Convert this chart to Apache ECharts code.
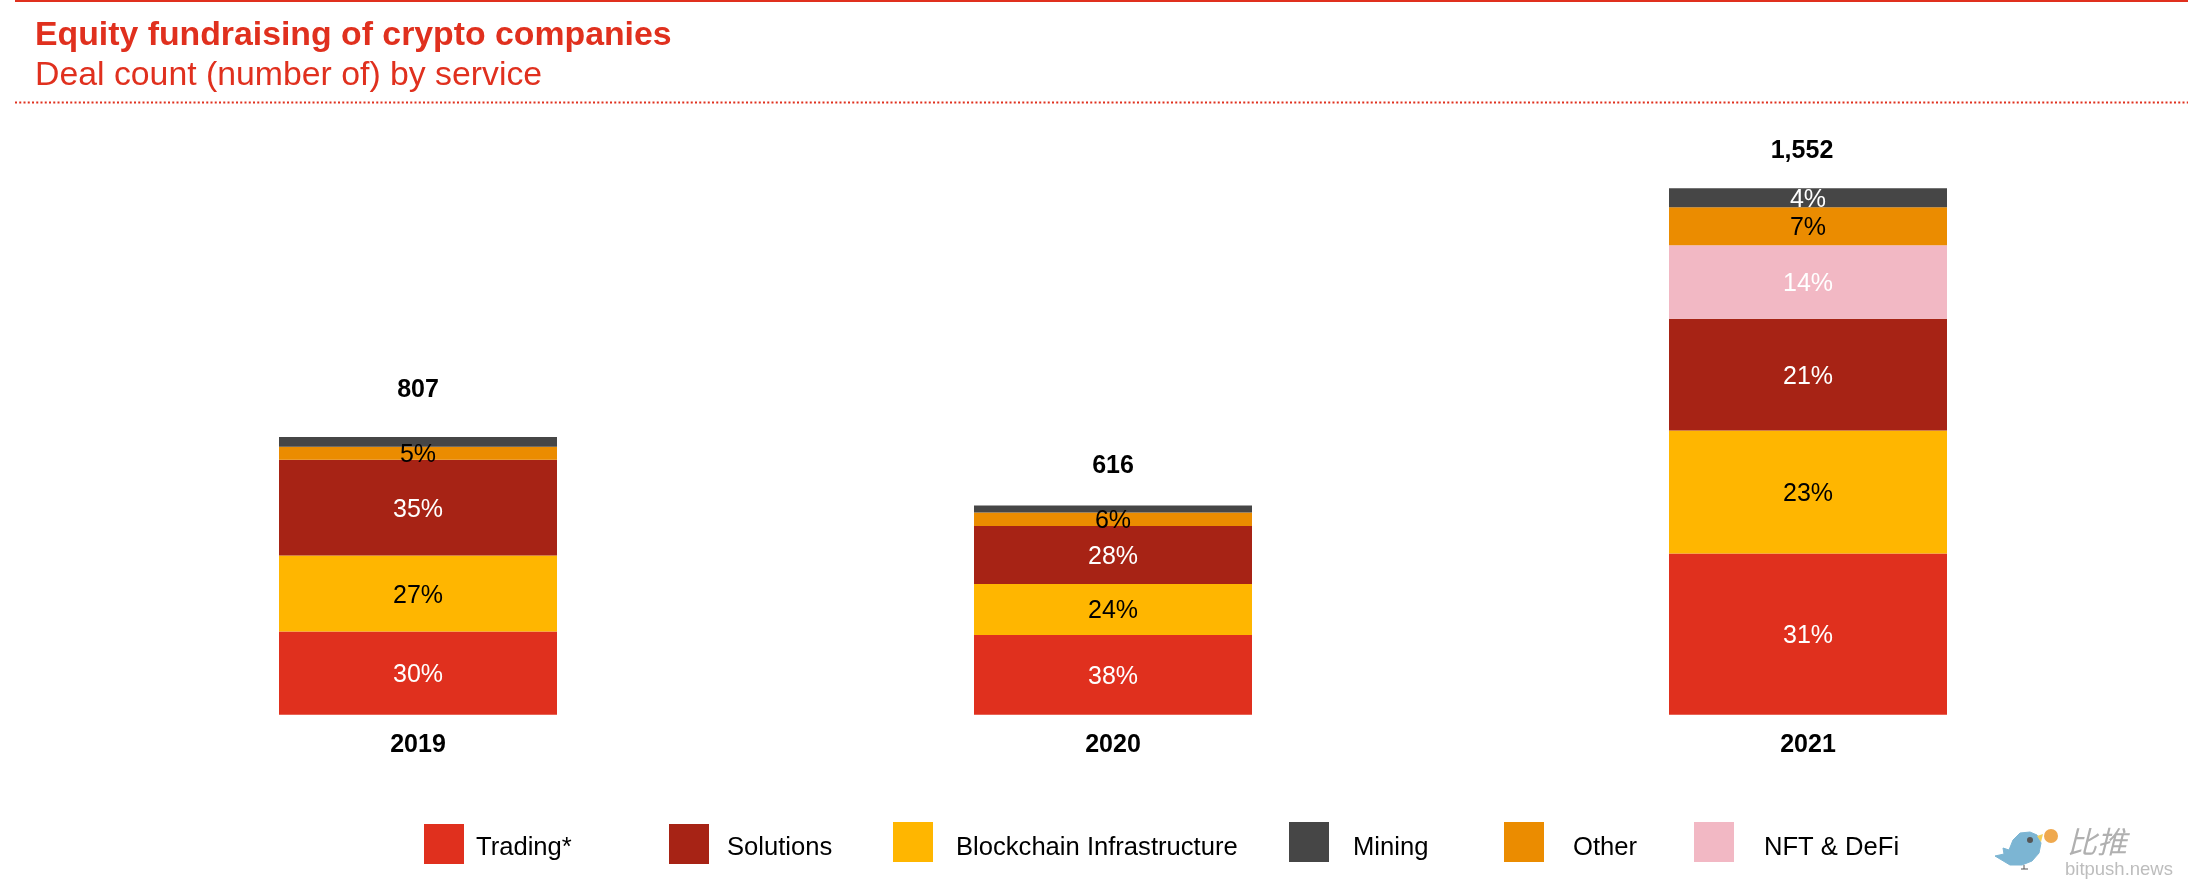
<!DOCTYPE html>
<html>
<head>
<meta charset="utf-8">
<title>Equity fundraising of crypto companies</title>
<script src="https://cdn.jsdelivr.net/npm/echarts@6/dist/echarts.min.js"></script>
<style>
  html, body { margin: 0; padding: 0; background: #fff; }
  #chart { width: 2192px; height: 896px; }
</style>
</head>
<body>
<div id="chart"></div>
<script>
// deal counts, stacked bottom to top
const years = ['2019', '2020', '2021'];
const trading = [245, 235, 475];
const blockchain = [224, 150, 363];
const solutions = [283, 171, 329];
const nftDefi = [null, null, 217];
const other = [38, 40, 112];
const mining = [29, 21, 56];

// labels as printed on the chart
const totals = ['807', '616', '1,552'];
const tradingPct = ['30%', '38%', '31%'];
const blockchainPct = ['27%', '24%', '23%'];
const solutionsPct = ['35%', '28%', '21%'];
const nftDefiPct = ['', '', '14%'];
const otherPct = ['5%', '6%', '7%'];
const miningPct = ['', '', '4%'];

const FONT = '"Liberation Sans", Arial, sans-serif';
const RED = '#E0301E';

// totals are hand placed in the original, not a fixed distance from the bar
const totalNudge = [[0, -8], [0, -1], [-6, 1]];

function stacked(name, values, pct, color, labelColor) {
  return {
    name: name,
    type: 'bar',
    stack: 'deals',
    barWidth: 278,
    data: values,
    itemStyle: { color: color },
    label: {
      show: true,
      position: 'inside',
      color: labelColor,
      fontFamily: FONT,
      fontSize: 25,
      offset: [0, 2],
      formatter: function (p) { return pct[p.dataIndex]; }
    }
  };
}

// one legend per entry, the spacing in the original is uneven
function legendAt(name, left, top, gap) {
  return {
    data: [name],
    left: left,
    top: top,
    padding: 0,
    selectedMode: false,
    itemWidth: 40,
    itemHeight: 40,
    icon: 'rect',
    formatter: '{t|{name}}',
    textStyle: {
      color: '#000',
      fontFamily: FONT,
      fontSize: 25.6,
      rich: {
        t: {
          color: '#000',
          fontFamily: FONT,
          fontSize: 25.6,
          // text centre sits at the same height for every entry
          padding: [top === 824 ? 8 : 11, 0, 0, gap]
        }
      }
    }
  };
}

const chart = echarts.init(document.getElementById('chart'), null, { renderer: 'canvas' });

chart.setOption({
  animation: false,
  backgroundColor: '#fff',
  title: {
    text: 'Equity fundraising of crypto companies',
    subtext: 'Deal count (number of) by service',
    left: 35,
    top: 19,
    padding: 0,
    itemGap: 6,
    textStyle: { color: RED, fontFamily: FONT, fontSize: 33.8, fontWeight: 'bold' },
    subtextStyle: { color: RED, fontFamily: FONT, fontSize: 33.8 }
  },
  legend: [
    legendAt('Trading*', 424, 824, 7),
    legendAt('Solutions', 669, 824, 13),
    legendAt('Blockchain Infrastructure', 893, 822, 18),
    legendAt('Mining', 1289, 822, 19),
    legendAt('Other', 1504, 822, 24),
    legendAt('NFT & DeFi', 1694, 822, 25)
  ],
  grid: { left: 70.5, width: 2085, top: 172, height: 542.7 },
  xAxis: {
    type: 'category',
    data: years,
    axisLine: { show: false },
    axisTick: { show: false },
    axisLabel: {
      color: '#000',
      fontFamily: FONT,
      fontSize: 25,
      fontWeight: 'bold',
      margin: 18
    }
  },
  yAxis: { type: 'value', min: 0, max: 1600, show: false, splitLine: { show: false } },
  series: [
    stacked('Trading*', trading, tradingPct, RED, '#fff'),
    stacked('Blockchain Infrastructure', blockchain, blockchainPct, '#FFB600', '#000'),
    stacked('Solutions', solutions, solutionsPct, '#A72315', '#fff'),
    stacked('NFT & DeFi', nftDefi, nftDefiPct, '#F2B8C4', '#fff'),
    stacked('Other', other, otherPct, '#EB8C00', '#000'),
    stacked('Mining', mining, miningPct, '#464646', '#fff'),
    {
      name: 'Total',
      type: 'scatter',
      symbolSize: 0,
      itemStyle: { opacity: 1 },
      data: years.map(function (y, i) {
        const sum = trading[i] + blockchain[i] + solutions[i] + (nftDefi[i] || 0) + other[i] + mining[i];
        return { value: [i, sum], label: { offset: totalNudge[i] } };
      }),
      label: {
        show: true,
        position: 'top',
        color: '#000',
        opacity: 1,
        fontFamily: FONT,
        fontSize: 25,
        fontWeight: 'bold',
        distance: 26,
        formatter: function (p) { return totals[p.dataIndex]; }
      }
    }
  ],
  graphic: [
    { type: 'rect', silent: true, shape: { x: 15, y: 0, width: 2173, height: 2 }, style: { fill: RED } },
    {
      type: 'line', silent: true,
      shape: { x1: 15, y1: 102.5, x2: 2188, y2: 102.5 },
      style: { stroke: RED, lineWidth: 2, lineDash: [2, 2.25] }
    },
    // bitpush watermark
    {
      type: 'polygon', silent: true,
      shape: {
        points: [[2030, 832], [2037, 835], [2041, 843], [2039, 853], [2032, 861], [2022, 865], [2010, 865],
          [1995, 856], [2004, 854], [2003, 848], [2009, 850], [2013, 840], [2020, 833]]
      },
      style: { fill: '#7CB5D3', stroke: '#7CB5D3', lineWidth: 1, lineJoin: 'round' }
    },
    {
      type: 'polygon', silent: true,
      shape: { points: [[2037, 836], [2043, 834], [2041, 842]] },
      style: { fill: '#F2D05A' }
    },
    { type: 'circle', silent: true, shape: { cx: 2030, cy: 840, r: 3 }, style: { fill: '#555' } },
    { type: 'circle', silent: true, shape: { cx: 2051, cy: 836, r: 7 }, style: { fill: '#EFA94F' } },
    { type: 'line', silent: true, shape: { x1: 2024, y1: 865, x2: 2024, y2: 869 }, style: { stroke: '#555', lineWidth: 1 } },
    { type: 'line', silent: true, shape: { x1: 2021, y1: 869, x2: 2028, y2: 869 }, style: { stroke: '#555', lineWidth: 1 } },
    {
      type: 'text', silent: true, left: 2067, top: 827,
      style: { text: '比推', fill: '#B0B0B0', font: 'italic 30px "Noto Sans CJK SC"' }
    },
    {
      type: 'text', silent: true, left: 2065, top: 860,
      style: { text: 'bitpush.news', fill: '#BDBDBD', font: '18.5px ' + FONT }
    }
  ]
});
</script>
</body>
</html>
